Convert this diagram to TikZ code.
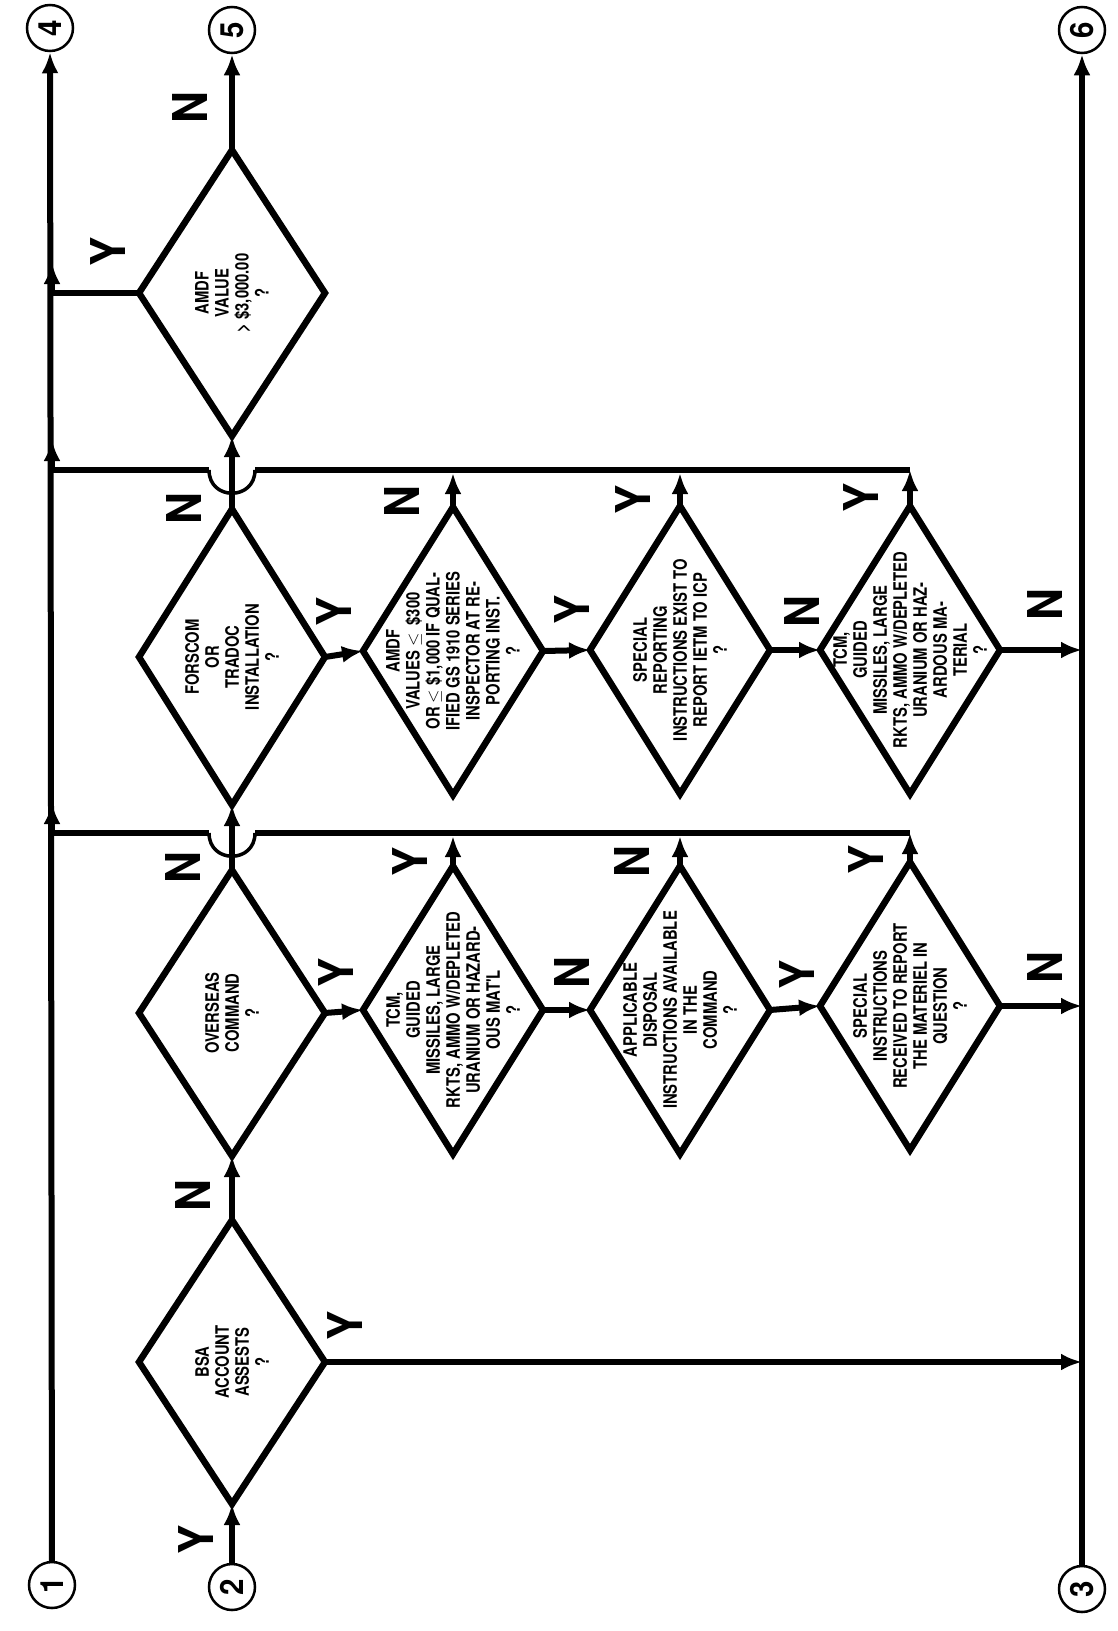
\documentclass[tikz,border=0pt]{standalone}
\usepackage{fontspec}
\usepackage{graphicx}
\newfontfamily\cb{TeX Gyre Heros}[FakeStretch=0.80]
\newfontfamily\cbw{TeX Gyre Heros}[FakeStretch=0.92]
\usetikzlibrary{shapes.geometric,arrows.meta}
\tikzset{
  dia/.style={shape=diamond, draw, line width=6.5pt, inner sep=0pt, outer sep=0pt, minimum width=180pt, minimum height=288pt},
  dtext/.style={rotate=90, align=center, inner sep=0pt, font=\cb\bfseries\fontsize{18.5}{20}\selectfont},
  yn/.style={rotate=90, inner sep=0pt, font=\cbw\bfseries\fontsize{48}{48}\selectfont},
  conn/.style={circle, draw, line width=2.5pt, minimum size=46pt, inner sep=0pt, font=\cbw\bfseries\fontsize{32}{32}\selectfont},
  ln/.style={line width=6pt},
  arr/.style={line width=6pt, -{Latex[length=21pt,width=17pt]}},
  hop/.style={line width=3.5pt},
}
\begin{document}
\begin{tikzpicture}[x=1pt,y=-1pt]
\useasboundingbox (0,0) rectangle (1118,1631);

% connector circles
\node[conn] (c1) at (52,1585) {\rotatebox{90}{1}};
\node[conn] (c2) at (232,1587) {\rotatebox{90}{2}};
\node[conn] (c3) at (1082,1589) {\rotatebox{90}{3}};
\node[conn] (c4) at (50,28) {\rotatebox{90}{4}};
\node[conn] (c5) at (232,30) {\rotatebox{90}{5}};
\node[conn] (c6) at (1082,30) {\rotatebox{90}{6}};

% column 1 diamonds
\node[dia, minimum width=186pt, minimum height=284pt] (bsa) at (232,1362) {};
\node[dtext] (tbsa) at (bsa) {BSA\\ACCOUNT\\ASSESTS\\?};
\node[dia, minimum width=186pt, minimum height=286pt] (over) at (232,1013) {};
\node[dtext] (tover) at (over) {OVERSEAS\\COMMAND\\?};
\node[dia, minimum width=186pt, minimum height=296pt] (fors) at (232,657) {};
\node[dtext] (tfors) at (fors) {FORSCOM\\OR\\TRADOC\\INSTALLATION\\?};
\node[dia, minimum width=186pt, minimum height=286pt] (amdfv) at (232,293) {};
\node[dtext] (tamdfv) at (amdfv) {AMDF\\VALUE\\> \$3,000.00\\?};

% lower row
\node[dia] (tcma) at (453,1010) {};
\node[dtext] (ttcma) at (tcma) {TCM,\\GUIDED\\MISSILES, LARGE\\RKTS, AMMO W/DEPLETED\\URANIUM OR HAZARD-\\OUS MAT'L\\?};
\node[dia] (appl) at (680,1010) {};
\node[dtext] (tappl) at (appl) {APPLICABLE\\DISPOSAL\\INSTRUCTIONS AVAILABLE\\IN THE\\COMMAND\\?};
\node[dia] (spec) at (910,1006) {};
\node[dtext] (tspec) at (spec) {SPECIAL\\INSTRUCTIONS\\RECEIVED TO REPORT\\THE MATERIEL IN\\QUESTION\\?};

% upper row
\node[dia] (amdfs) at (453,651) {};
\node[dtext] (tamdfs) at (amdfs) {AMDF\\VALUES $\leq$ \ \$300\\OR $\leq$ \$1,000 IF QUAL-\\IFIED GS 1910 SERIES\\INSPECTOR AT RE-\\PORTING INST.\\?};
\node[dia] (sprep) at (680,650) {};
\node[dtext] (tsprep) at (sprep) {SPECIAL\\REPORTING\\INSTRUCTIONS EXIST TO\\REPORT IETM TO ICP\\?};
\node[dia] (tcmb) at (910,650) {};
\node[dtext] (ttcmb) at (tcmb) {TCM,\\GUIDED\\MISSILES, LARGE\\RKTS, AMMO W/DEPLETED\\URANIUM OR HAZ-\\ARDOUS MA-\\TERIAL\\?};

% coordinates
\coordinate (rbsa) at (1082,1362);
\coordinate (rspec) at (1082,1006);
\coordinate (rtcmb) at (1082,650);
\coordinate (lcor) at (910,833);
\coordinate (ucor) at (910,470);
\coordinate (ltop1) at (453,836);
\coordinate (ltop2) at (680,836);
\coordinate (utop1) at (453,473);
\coordinate (utop2) at (680,473);
\coordinate (lh1) at (255,833);
\coordinate (lh2) at (209,833);
\coordinate (uh1) at (255,470);
\coordinate (uh2) at (209,470);
\coordinate (lml) at (52,833);
\coordinate (lmu) at (52,803);
\coordinate (uml) at (52,470);
\coordinate (umu) at (52,440);
\coordinate (aml) at (52,293);
\coordinate (amu) at (52,263);

% main vertical lines
\draw[arr] (c1) -- (c4);
\draw[arr] (c3) -- (c6);

% column 1 flow
\draw[arr] (c2) -- (bsa.south);
\draw[arr] (bsa.north) -- (over.south);
\draw[arr] (over.north) -- (fors.south);
\draw[arr] (fors.north) -- (amdfv.south);
\draw[arr] (amdfv.north) -- (c5);
\draw[arr] (bsa.east) -- (rbsa);
\draw[arr] (amdfv.west) -- (aml) -- (amu);

% lower row
\draw[arr] (over.east) -- (tcma.west);
\draw[arr] (tcma.east) -- (appl.west);
\draw[arr] (appl.east) -- (spec.west);
\draw[arr] (spec.east) -- (rspec);
\draw[arr] (tcma.north) -- (ltop1);
\draw[arr] (appl.north) -- (ltop2);
\draw[arr] (spec.north) -- (lcor);
\draw[ln] (lcor) -- (lh1);
\draw[hop] (lh1) .. controls (255,864) and (209,864) .. (lh2);
\draw[arr] (lh2) -- (lml) -- (lmu);

% upper row
\draw[arr] (fors.east) -- (amdfs.west);
\draw[arr] (amdfs.east) -- (sprep.west);
\draw[arr] (sprep.east) -- (tcmb.west);
\draw[arr] (tcmb.east) -- (rtcmb);
\draw[arr] (amdfs.north) -- (utop1);
\draw[arr] (sprep.north) -- (utop2);
\draw[arr] (tcmb.north) -- (ucor);
\draw[ln] (ucor) -- (uh1);
\draw[hop] (uh1) .. controls (255,501) and (209,501) .. (uh2);
\draw[arr] (uh2) -- (uml) -- (umu);

% Y / N labels
\node[yn] (y1) at (196,1540) {Y};
\node[yn] (n1) at (193,1196) {N};
\node[yn] (y2) at (345,1326) {Y};
\node[yn] (n2) at (183,868) {N};
\node[yn] (n3) at (184,509) {N};
\node[yn] (n4) at (190,108) {N};
\node[yn] (y3) at (108,252) {Y};
\node[yn] (y4) at (336,973) {Y};
\node[yn] (n5) at (572,973) {N};
\node[yn] (y5) at (797,975) {Y};
\node[yn] (n6) at (1045,968) {N};
\node[yn] (y6) at (410,862) {Y};
\node[yn] (n7) at (632,862) {N};
\node[yn] (y7) at (866,860) {Y};
\node[yn] (y8) at (334,612) {Y};
\node[yn] (y9) at (572,610) {Y};
\node[yn] (n8) at (802,612) {N};
\node[yn] (n9) at (1045,605) {N};
\node[yn] (n10) at (402,502) {N};
\node[yn] (y10) at (633,500) {Y};
\node[yn] (y11) at (861,498) {Y};
\end{tikzpicture}
\end{document}
